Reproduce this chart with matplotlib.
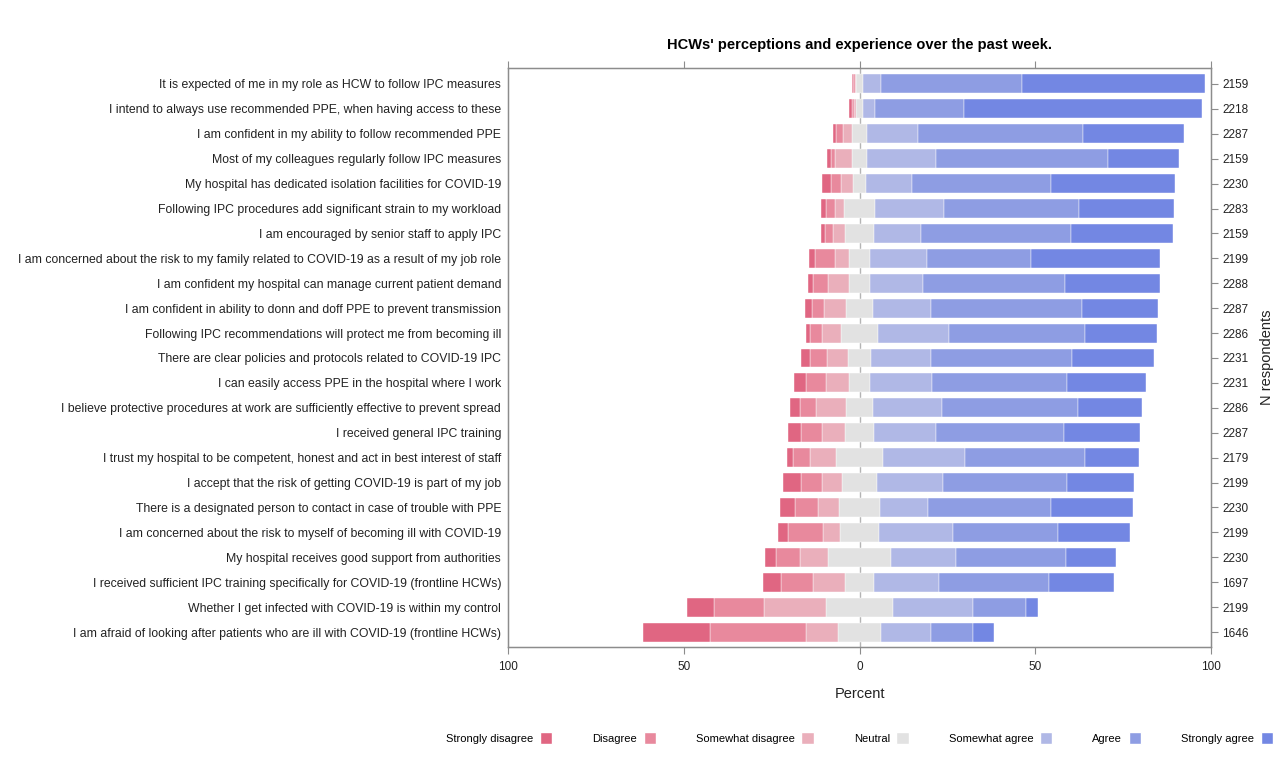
import matplotlib
matplotlib.use("Agg")
import matplotlib.pyplot as plt
import numpy as np
from matplotlib.patches import Patch

plt.rcParams['font.family'] = ['Liberation Sans', 'DejaVu Sans']

statements = [
    "It is expected of me in my role as HCW to follow IPC measures",
    "I intend to always use recommended PPE, when having access to these",
    "I am confident in my ability to follow recommended PPE",
    "Most of my colleagues regularly follow IPC measures",
    "My hospital has dedicated isolation facilities for COVID-19",
    "Following IPC procedures add significant strain to my workload",
    "I am encouraged by senior staff to apply IPC",
    "I am concerned about the risk to my family related to COVID-19 as a result of my job role",
    "I am confident my hospital can manage current patient demand",
    "I am confident in ability to donn and doff PPE to prevent transmission",
    "Following IPC recommendations will protect me from becoming ill",
    "There are clear policies and protocols related to COVID-19 IPC",
    "I can easily access PPE in the hospital where I work",
    "I believe protective procedures at work are sufficiently effective to prevent spread",
    "I received general IPC training",
    "I trust my hospital to be competent, honest and act in best interest of staff",
    "I accept that the risk of getting COVID-19 is part of my job",
    "There is a designated person to contact in case of trouble with PPE",
    "I am concerned about the risk to myself of becoming ill with COVID-19",
    "My hospital receives good support from authorities",
    "I received sufficient IPC training specifically for COVID-19 (frontline HCWs)",
    "Whether I get infected with COVID-19 is within my control",
    "I am afraid of looking after patients who are ill with COVID-19 (frontline HCWs)",
]
n_respondents = [2159, 2218, 2287, 2159, 2230, 2283, 2159, 2199, 2288, 2287, 2286, 2231,
                 2231, 2286, 2287, 2179, 2199, 2230, 2199, 2230, 1697, 2199, 1646]

# percentages per answer level
strongly_disagree = [0.3, 0.8, 1.0, 1.2, 2.6, 1.4, 0.9, 1.9, 1.4, 1.9, 1.3, 2.6,
                     3.4, 2.8, 3.6, 1.9, 5.2, 4.4, 2.9, 3.3, 5.2, 7.8, 19.0]
disagree = [0.4, 0.6, 1.9, 1.1, 2.8, 2.4, 2.4, 5.7, 4.3, 3.3, 3.4, 5.0,
            5.9, 4.7, 6.2, 4.7, 6.1, 6.4, 9.9, 6.8, 9.0, 14.0, 27.4]
somewhat_disagree = [0.4, 0.4, 2.6, 4.7, 3.3, 2.7, 3.3, 3.8, 6.0, 6.4, 5.4, 5.9,
                     6.4, 8.5, 6.4, 7.4, 5.7, 6.0, 4.7, 7.9, 9.0, 17.9, 9.0]
neutral = [1.9, 2.2, 4.3, 4.4, 3.8, 8.7, 8.5, 6.2, 5.9, 7.6, 10.4, 6.5,
           6.1, 7.6, 8.3, 13.5, 9.8, 11.8, 11.2, 17.9, 8.5, 18.8, 12.5]
somewhat_agree = [5.2, 3.3, 14.5, 19.6, 13.1, 19.7, 13.3, 16.0, 15.0, 16.6, 20.2, 17.1,
                  17.7, 19.8, 17.7, 23.3, 18.8, 13.6, 21.1, 18.5, 18.5, 22.8, 14.0]
agree = [40.0, 25.2, 47.0, 48.8, 39.4, 38.5, 42.5, 29.7, 40.5, 43.0, 38.7, 40.1,
         38.4, 38.6, 36.3, 34.0, 35.3, 35.0, 29.7, 31.3, 31.3, 15.2, 12.0]
strongly_agree = [52.2, 67.9, 28.8, 20.2, 35.3, 27.0, 29.2, 36.6, 26.9, 21.5, 20.4, 23.3,
                  22.4, 18.2, 21.7, 15.4, 19.2, 23.3, 20.6, 14.2, 18.3, 3.5, 6.0]

levels = ["Strongly disagree", "Disagree", "Somewhat disagree", "Neutral",
          "Somewhat agree", "Agree", "Strongly agree"]
colors = ["#e06682", "#e8899d", "#eaafbb", "#e2e2e2", "#b0b8e6", "#8e9de3", "#7387e3"]

axis_grey = "#8c8c8c"
text_col = "#222222"

fig = plt.figure(figsize=(12.8, 7.75), dpi=100)
ax = fig.add_axes([508 / 1280, 1 - 647 / 775, (1211 - 508) / 1280, (647 - 68) / 775])

y = np.arange(len(statements))
h = 0.76
neu = np.array(neutral)

ax.axvline(0, color="#b4b4b4", lw=1.0, zorder=0)

# neutral centred on zero
ax.barh(y, neu, left=-neu / 2, height=h, color=colors[3], edgecolor="white", lw=0.3, zorder=2)

# disagreement to the left
left = -neu / 2
for vals, c in [(somewhat_disagree, colors[2]), (disagree, colors[1]), (strongly_disagree, colors[0])]:
    v = np.array(vals)
    ax.barh(y, -v, left=left, height=h, color=c, edgecolor="white", lw=0.3, zorder=2)
    left = left - v

# agreement to the right
right = neu / 2
for vals, c in [(somewhat_agree, colors[4]), (agree, colors[5]), (strongly_agree, colors[6])]:
    v = np.array(vals)
    ax.barh(y, v, left=right, height=h, color=c, edgecolor="white", lw=0.3, zorder=2)
    right = right + v

ax.set_xlim(-100, 100)
ax.set_ylim(len(statements) - 1 + 0.6, -0.64)
ax.set_xticks([-100, -50, 0, 50, 100])
ax.set_xticklabels(["100", "50", "0", "50", "100"])
ax.tick_params(axis="x", which="both", top=True, bottom=True, direction="out", length=5,
               color=axis_grey, labelsize=8.5, labelcolor=text_col, pad=5)
ax.set_yticks(y)
ax.set_yticklabels(statements)
ax.tick_params(axis="y", length=0, labelsize=8.85, labelcolor=text_col, pad=5)
ax.set_xlabel("Percent", fontsize=10.5, color=text_col, labelpad=10)
for s in ax.spines.values():
    s.set_color(axis_grey)
    s.set_linewidth(1.0)

ax2 = ax.twinx()
ax2.set_ylim(ax.get_ylim())
ax2.set_yticks(y)
ax2.set_yticklabels([str(n) for n in n_respondents])
ax2.tick_params(axis="y", direction="out", length=5, color=axis_grey,
                labelsize=8.5, labelcolor=text_col, pad=3)
ax2.set_ylabel("N respondents", fontsize=10.5, color=text_col, labelpad=8)
for s in ax2.spines.values():
    s.set_color(axis_grey)

ax.set_title("HCWs' perceptions and experience over the past week.", fontsize=10.5,
             fontweight="bold", color="black", pad=14)

handles = [Patch(facecolor=c, edgecolor="white", label=l) for l, c in zip(levels, colors)]
fig.legend(handles=handles, loc="center", bbox_to_anchor=(859.5 / 1280, 1 - 738 / 775),
           ncol=7, frameon=False, markerfirst=False, fontsize=8, handlelength=1.1,
           handleheight=1.2, handletextpad=0.6, columnspacing=3.6)

fig.savefig("out.png", dpi=100)
